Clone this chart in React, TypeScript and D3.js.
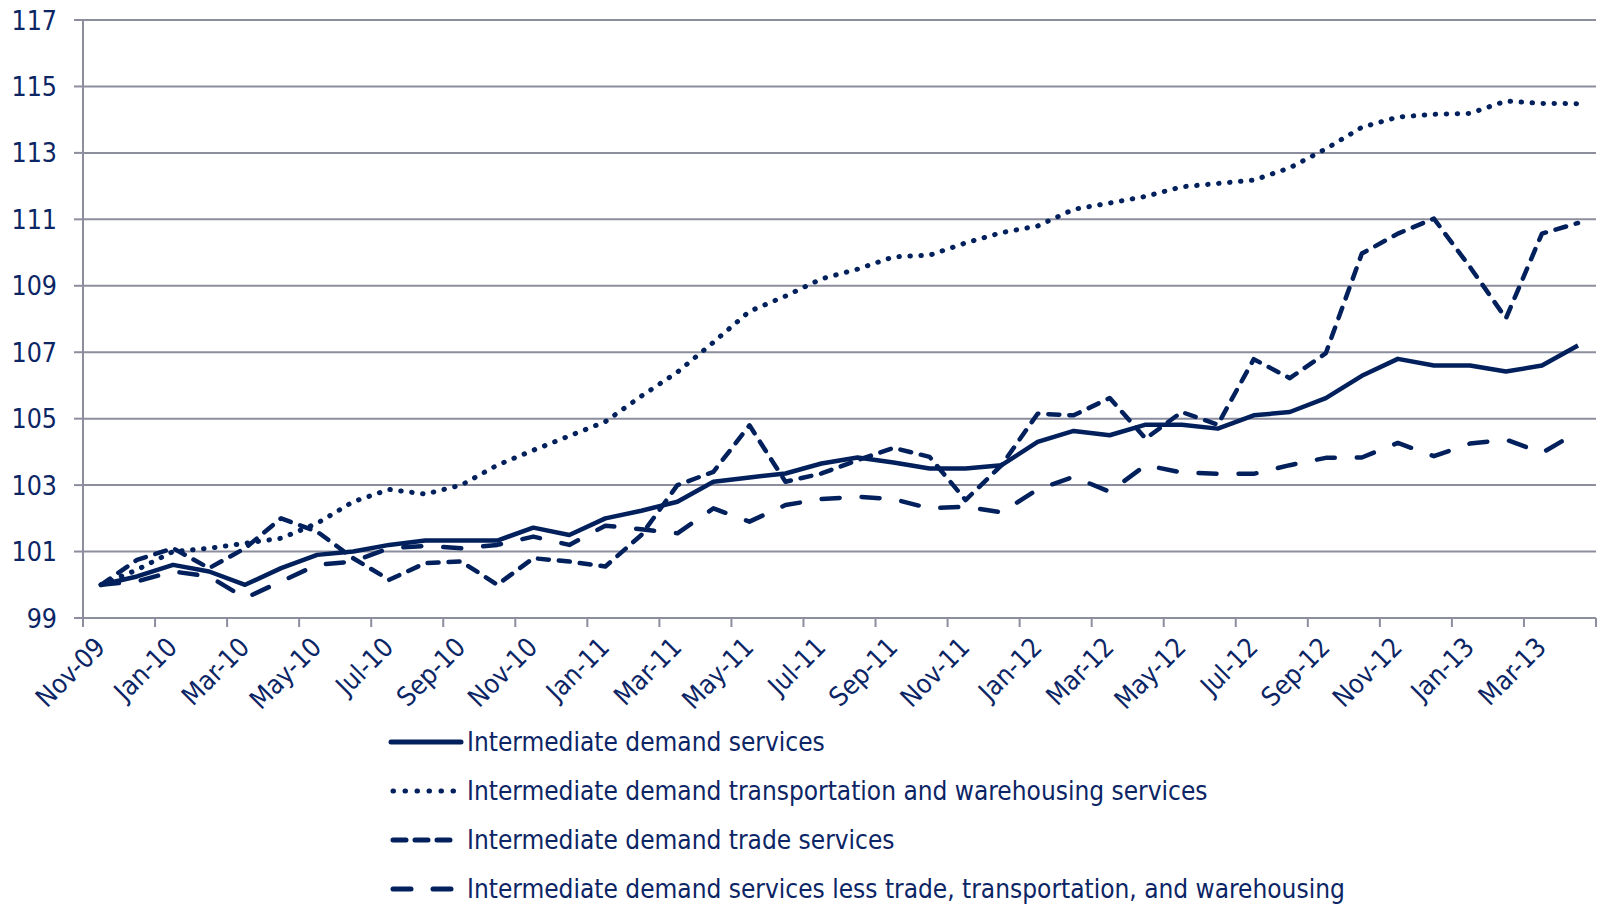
import React, { useEffect, useRef } from 'react'
import * as d3 from 'd3'

const months = [
    'Nov-09', 'Dec-09',
    'Jan-10', 'Feb-10', 'Mar-10', 'Apr-10', 'May-10', 'Jun-10', 'Jul-10', 'Aug-10', 'Sep-10', 'Oct-10', 'Nov-10', 'Dec-10',
    'Jan-11', 'Feb-11', 'Mar-11', 'Apr-11', 'May-11', 'Jun-11', 'Jul-11', 'Aug-11', 'Sep-11', 'Oct-11', 'Nov-11', 'Dec-11',
    'Jan-12', 'Feb-12', 'Mar-12', 'Apr-12', 'May-12', 'Jun-12', 'Jul-12', 'Aug-12', 'Sep-12', 'Oct-12', 'Nov-12', 'Dec-12',
    'Jan-13', 'Feb-13', 'Mar-13', 'Apr-13'
]

const services = [
    100.0, 100.25, 100.6, 100.4, 100.0, 100.5, 100.9, 101.0, 101.2, 101.33, 101.33, 101.33, 101.72, 101.5,
    102.0, 102.23, 102.5, 103.1, 103.23, 103.35, 103.65, 103.83, 103.68, 103.5, 103.5, 103.6,
    104.3, 104.63, 104.5, 104.82, 104.82, 104.7, 105.1, 105.2, 105.62, 106.29, 106.8, 106.6,
    106.6, 106.42, 106.6, 107.2
]

const transport = [
    100.0, 100.45, 101.0, 101.1, 101.25, 101.4, 101.85, 102.5, 102.87, 102.73, 103.0, 103.6, 104.05, 104.48,
    104.91, 105.68, 106.4, 107.3, 108.23, 108.69, 109.21, 109.5, 109.87, 109.92, 110.29, 110.6,
    110.8, 111.3, 111.49, 111.69, 111.98, 112.08, 112.18, 112.55, 113.12, 113.77, 114.08, 114.16,
    114.19, 114.56, 114.49, 114.48
]

const trade = [
    100.0, 100.75, 101.1, 100.5, 101.1, 102.0, 101.6, 100.8, 100.15, 100.65, 100.7, 100.0, 100.8, 100.7,
    100.55, 101.5, 103.0, 103.4, 104.8, 103.1, 103.35, 103.75, 104.12, 103.85, 102.55, 103.6,
    105.15, 105.1, 105.62, 104.4, 105.2, 104.82, 106.79, 106.22, 106.97, 109.97, 110.57, 111.02,
    109.57, 108.02, 110.57, 110.89
]

const lessTrade = [
    100.0, 100.1, 100.4, 100.25, 99.6, 100.1, 100.6, 100.7, 101.1, 101.17, 101.1, 101.2, 101.45, 101.2,
    101.78, 101.67, 101.55, 102.3, 101.9, 102.4, 102.58, 102.65, 102.58, 102.3, 102.35, 102.18,
    102.87, 103.25, 102.8, 103.6, 103.38, 103.34, 103.34, 103.6, 103.82, 103.83, 104.27, 103.87,
    104.25, 104.37, 103.97, 104.6
]

const yTicks = [99, 101, 103, 105, 107, 109, 111, 113, 115, 117]

const seriesNames = [
    'Intermediate demand services',
    'Intermediate demand transportation and warehousing services',
    'Intermediate demand trade services',
    'Intermediate demand services less trade, transportation, and warehousing'
]

const NAVY = '#02205c'
const TEXT = '#0b2565'
const GRID = '#8c8e9e'
const FONT = "'DejaVu Sans Condensed', 'DejaVu Sans', sans-serif"

// stroke styles per series
const dashes = ['none', '0.5 10.5', '11 10', '18 22']

const App: React.FC = () => {
    const ref = useRef<any>()
    useEffect(() => {
        const svg = d3.select(ref.current)
        const left = 83
        const right = 1596
        const top = 20
        const bottom = 618

        const x = d3.scaleBand().domain(months).range([left, right])
        const bw = x.bandwidth()
        const cx = (m: string) => (x(m) as number) + bw / 2
        const y = d3.scaleLinear().domain([99, 117]).range([bottom, top])

        // gridlines
        svg.select('.grid')
            .selectAll('line')
            .data(yTicks.filter((v) => v > 99))
            .join('line')
            .attr('x1', left)
            .attr('x2', right)
            .attr('y1', (d) => y(d))
            .attr('y2', (d) => y(d))
            .attr('stroke', GRID)
            .attr('stroke-width', 2)

        // y axis
        const yAxis = svg.select('.yaxis')
        yAxis
            .selectAll('line.tick')
            .data(yTicks)
            .join('line')
            .attr('class', 'tick')
            .attr('x1', left - 9)
            .attr('x2', left)
            .attr('y1', (d) => y(d))
            .attr('y2', (d) => y(d))
            .attr('stroke', GRID)
            .attr('stroke-width', 2)
        yAxis
            .selectAll('text')
            .data(yTicks)
            .join('text')
            .attr('x', 57)
            .attr('y', (d) => y(d))
            .attr('dy', '0.36em')
            .attr('text-anchor', 'end')
            .attr('fill', TEXT)
            .attr('font-size', 26.5)
            .attr('font-family', FONT)
            .text((d) => d)
        yAxis
            .selectAll('line.domain')
            .data([0])
            .join('line')
            .attr('class', 'domain')
            .attr('x1', left)
            .attr('x2', left)
            .attr('y1', top)
            .attr('y2', bottom)
            .attr('stroke', GRID)
            .attr('stroke-width', 2)

        // x axis
        const xAxis = svg.select('.xaxis')
        const boundaries = d3.range(0, months.length + 1, 2).map((k) => left + k * bw)
        xAxis
            .selectAll('line.tick')
            .data(boundaries)
            .join('line')
            .attr('class', 'tick')
            .attr('x1', (d) => d)
            .attr('x2', (d) => d)
            .attr('y1', bottom)
            .attr('y2', bottom + 9)
            .attr('stroke', GRID)
            .attr('stroke-width', 2)
        xAxis
            .selectAll('line.domain')
            .data([0])
            .join('line')
            .attr('class', 'domain')
            .attr('x1', left)
            .attr('x2', right)
            .attr('y1', bottom)
            .attr('y2', bottom)
            .attr('stroke', GRID)
            .attr('stroke-width', 2)
        xAxis
            .selectAll('text')
            .data(months.filter((_, i) => i % 2 === 0))
            .join('text')
            .attr('transform', (d) => `translate(${cx(d) - 1}, ${bottom + 24}) rotate(-45)`)
            .attr('text-anchor', 'end')
            .attr('dy', '0.36em')
            .attr('fill', TEXT)
            .attr('font-size', 26.5)
            .attr('font-family', FONT)
            .text((d) => d)

        // lines
        const all = [services, transport, trade, lessTrade]
        const line = d3
            .line<number>()
            .x((_, i) => cx(months[i]))
            .y((d) => y(d))
        svg.select('.lines')
            .selectAll('path')
            .data(all)
            .join('path')
            .attr('fill', 'none')
            .attr('stroke', NAVY)
            .attr('stroke-width', (_, i) => (i === 1 ? 5 : 4.5))
            .attr('stroke-linecap', (_, i) => (i === 0 ? 'butt' : 'round'))
            .attr('stroke-linejoin', 'round')
            .attr('stroke-dasharray', (_, i) => dashes[i])
            .attr('d', (d) => line(d))

        // legend
        const rowY = [742, 791, 840, 889]
        const leg = svg
            .select('.legend')
            .selectAll('g')
            .data(seriesNames)
            .join('g')
            .attr('transform', (_, i) => `translate(0, ${rowY[i]})`)
        leg.selectAll('line')
            .data((_, i) => [i])
            .join('line')
            .attr('x1', (i) => (i === 0 ? 391 : 393))
            .attr('x2', (i) => (i === 0 ? 461 : 459))
            .attr('y1', 0)
            .attr('y2', 0)
            .attr('stroke', NAVY)
            .attr('stroke-width', (i) => (i === 0 ? 5 : 5))
            .attr('stroke-linecap', 'round')
            .attr('stroke-dasharray', (i) => (i === 1 ? '0.5 11.5' : i === 2 ? '13 9' : i === 3 ? '18 22' : 'none'))
        leg.selectAll('text')
            .data((d) => [d])
            .join('text')
            .attr('x', 467)
            .attr('y', 0)
            .attr('dy', '0.36em')
            .attr('fill', TEXT)
            .attr('font-size', 26)
            .attr('font-family', FONT)
            .text((d) => d)
    }, [])
    return (
        <svg
            ref={ref}
            width={1602}
            height={905}
            viewBox='0 0 1602 905'
            style={{ position: 'absolute', left: 0, top: 0, background: '#fff' }}
        >
            <g className='grid'></g>
            <g className='yaxis'></g>
            <g className='xaxis'></g>
            <g className='lines'></g>
            <g className='legend'></g>
        </svg>
    )
}

export default App
